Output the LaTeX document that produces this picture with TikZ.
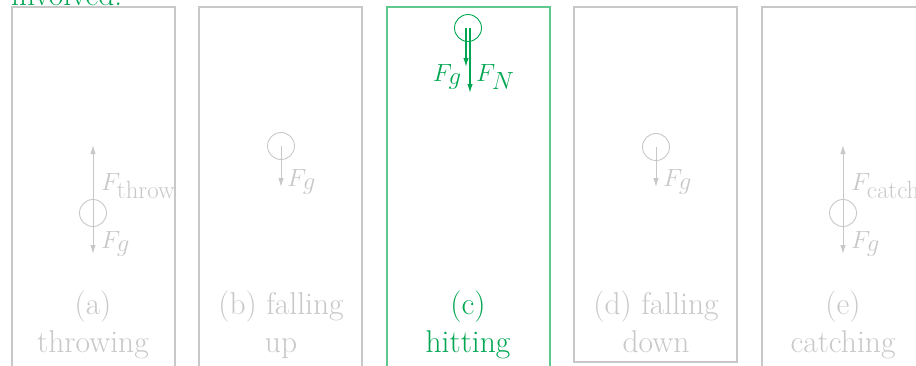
\documentclass[tikz,border=0pt]{standalone}
\usetikzlibrary{arrows.meta}
\definecolor{lg}{RGB}{200,200,200}
\definecolor{gt}{RGB}{0,166,81}
\definecolor{gb}{RGB}{95,200,140}
\begin{document}
\begin{tikzpicture}[x=1pt,y=-1pt,
 frame/.style={draw=lg,line width=1.2pt},
 gframe/.style={draw=gb,line width=1.1pt},
 ball/.style={circle,draw=lg,line width=0.9pt,minimum size=27pt,inner sep=0pt},
 gball/.style={ball,draw=gt},
 force/.style={draw=lg,line width=1pt,-{Latex[length=9pt,width=5.5pt]}},
 gforce/.style={force,draw=gt,fill=gt,line width=1.3pt},
 lbl/.style={text=lg,font=\fontsize{31.5}{34}\selectfont,anchor=base,inner sep=0pt},
 glbl/.style={lbl,text=gt},
 mlbl/.style={text=lg,font=\fontsize{34}{36}\selectfont,inner sep=0pt},
 gmlbl/.style={mlbl,text=gt},
]
\path[use as bounding box] (0,0) rectangle (916,365);
\clip (0,0) rectangle (916,365);
% clipped heading text
\node[glbl,anchor=base west] (inv) at (11,5) {involved.};
% frames
\draw[frame] (12,372) -- (12,7) -- (175,7) -- (175,372);
\draw[frame] (199,372) -- (199,7) -- (362,7) -- (362,372);
\draw[gframe] (387,372) -- (387,7) -- (550,7) -- (550,372);
\draw[frame] (574,7) rectangle (737,362);
\draw[frame] (762,372) -- (762,7) -- (930,7);
% (a) throwing
\node[ball] (ba) at (93,213) {};
\coordinate (aup) at (93,145);
\coordinate (adn) at (93,254);
\draw[force] (ba.center) -- (aup);
\draw[force] (ba.center) -- (adn);
\node[mlbl,anchor=base west] (fta) at (101,190) {$F_{\mathrm{throw}}$};
\node[mlbl,anchor=base west] (fga) at (101,248) {$F_g$};
% (b) falling up
\node[ball] (bb) at (281,146) {};
\coordinate (bdn) at (281,187);
\draw[force] (bb.center) -- (bdn);
\node[mlbl,anchor=base west] (fgb) at (287,186) {$F_g$};
% (c) hitting
\node[gball] (bc) at (468,28) {};
\coordinate (cg) at (466,67);
\coordinate (cn) at (470,93);
\draw[gforce] ([xshift=-2pt]bc.center) -- (cg);
\draw[gforce] ([xshift=2pt]bc.center) -- (cn);
\node[gmlbl,anchor=base east] (fgc) at (462,81) {$F_g$};
\node[gmlbl,anchor=base west] (fnc) at (476,81) {$F_N$};
% (d) falling down
\node[ball] (bd) at (656,147) {};
\coordinate (ddn) at (656,187);
\draw[force] (bd.center) -- (ddn);
\node[mlbl,anchor=base west] (fgd) at (663,186) {$F_g$};
% (e) catching
\node[ball] (be) at (843,213) {};
\coordinate (eup) at (843,145);
\coordinate (edn) at (843,254);
\draw[force] (be.center) -- (eup);
\draw[force] (be.center) -- (edn);
\node[mlbl,anchor=base west] (fce) at (851,190) {$F_{\mathrm{catch}}$};
\node[mlbl,anchor=base west] (fge) at (851,248) {$F_g$};
% captions
\node[lbl] (la1) at (93,314) {(a)};
\node[lbl] (la2) at (93,352) {throwing};
\node[lbl] (lb1) at (281,314) {(b) falling};
\node[lbl] (lb2) at (281,352) {up};
\node[glbl] (lc1) at (468,314) {(c)};
\node[glbl] (lc2) at (468,352) {hitting};
\node[lbl] (ld1) at (656,314) {(d) falling};
\node[lbl] (ld2) at (656,352) {down};
\node[lbl] (le1) at (843,314) {(e)};
\node[lbl] (le2) at (843,352) {catching};
\end{tikzpicture}
\end{document}
